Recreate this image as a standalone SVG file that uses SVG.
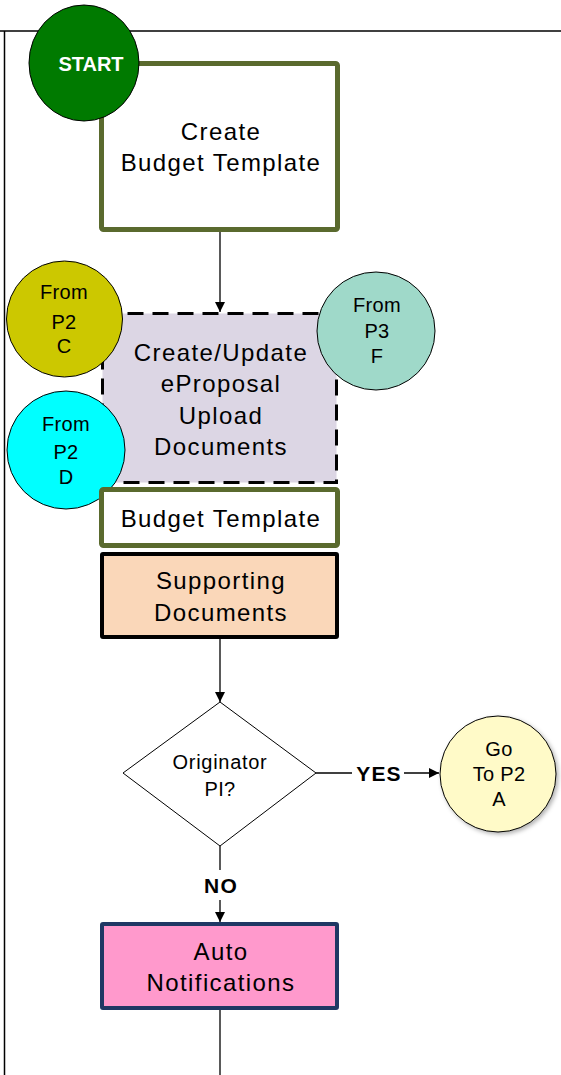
<svg xmlns="http://www.w3.org/2000/svg" width="561" height="1075" viewBox="0 0 561 1075">
<style>
text{font-family:"Liberation Sans",Arial,sans-serif;fill:#000;text-anchor:middle;dominant-baseline:central}
.big{font-size:24px;letter-spacing:1.4px}
.sm{font-size:20px;letter-spacing:0.3px}
.lbl{font-size:21px;font-weight:bold;letter-spacing:1.2px}
.olive{fill:#fff;stroke:#5A6A2E;stroke-width:5}
.conn{stroke:#000;stroke-width:1.3;fill:none}
.circ{stroke:#000;stroke-width:1}
</style>
<defs>
<marker id="arr" viewBox="0 0 10 10" refX="10" refY="5" markerWidth="10" markerHeight="10" markerUnits="userSpaceOnUse" orient="auto">
<path d="M0,0 L10,5 L0,10 z" fill="#000"/>
</marker>
<filter id="sh" x="-20%" y="-20%" width="150%" height="150%">
<feDropShadow dx="2" dy="2" stdDeviation="2" flood-color="#000" flood-opacity="0.3"/>
</filter>
</defs>
<rect x="0" y="0" width="561" height="1075" fill="#fff"/>
<g id="lanes">
<line x1="0" y1="31" x2="561" y2="31" stroke="#000" stroke-width="1.5"/>
<line x1="4.5" y1="31" x2="4.5" y2="1075" stroke="#000" stroke-width="1.5"/>
</g>
<g id="connectors">
<line class="conn" x1="220" y1="230" x2="220" y2="312" marker-end="url(#arr)"/>
<line class="conn" x1="220" y1="638" x2="220" y2="702" marker-end="url(#arr)"/>
<line class="conn" x1="316" y1="773" x2="352" y2="773"/>
<line class="conn" x1="404" y1="773" x2="439" y2="773" marker-end="url(#arr)"/>
<line class="conn" x1="220" y1="846" x2="220" y2="870"/>
<line class="conn" x1="220" y1="900" x2="220" y2="922" marker-end="url(#arr)"/>
<line class="conn" x1="220" y1="1009" x2="220" y2="1075"/>
<text class="lbl" x="379" y="773">YES</text>
<text class="lbl" x="221" y="885">NO</text>
</g>
<g id="create-budget">
<rect class="olive" x="101.5" y="63.5" width="236" height="166" rx="2"/>
<text class="big" x="221" y="131">Create</text>
<text class="big" x="221" y="162">Budget Template</text>
</g>
<g id="eproposal">
<rect x="102.5" y="313.5" width="234" height="169" fill="#DCD6E4" stroke="#000" stroke-width="3" stroke-dasharray="16,9"/>
<text class="big" x="221" y="352">Create/Update</text>
<text class="big" x="221" y="383">eProposal</text>
<text class="big" x="221" y="415">Upload</text>
<text class="big" x="221" y="446">Documents</text>
</g>
<g id="start">
<ellipse cx="84" cy="63" rx="55" ry="58" fill="#007A00" stroke="#000" stroke-width="1"/>
<text x="91" y="64" style="font-size:20px;font-weight:bold;fill:#fff">START</text>
</g>
<g id="from-p2-c">
<circle class="circ" cx="64.5" cy="319" r="58" fill="#CCC800"/>
<text class="sm" x="64" y="292">From</text>
<text class="sm" x="64" y="322">P2</text>
<text class="sm" x="64" y="346">C</text>
</g>
<g id="from-p2-d">
<circle class="circ" cx="66" cy="450" r="59" fill="#00FFFF"/>
<text class="sm" x="66" y="424">From</text>
<text class="sm" x="66" y="452">P2</text>
<text class="sm" x="66" y="477">D</text>
</g>
<g id="from-p3-f">
<circle class="circ" cx="376" cy="331" r="59" fill="#9FD9C9"/>
<text class="sm" x="377" y="305">From</text>
<text class="sm" x="377" y="331">P3</text>
<text class="sm" x="377" y="356">F</text>
</g>
<g id="budget-template">
<rect class="olive" x="101.5" y="489.5" width="236" height="56" rx="2"/>
<text class="big" x="221" y="518">Budget Template</text>
</g>
<g id="supporting-docs">
<rect x="102" y="554" width="235" height="83" fill="#FAD7B9" stroke="#000" stroke-width="4" rx="1"/>
<text class="big" x="221" y="580">Supporting</text>
<text class="big" x="221" y="612">Documents</text>
</g>
<g id="decision">
<polygon points="220,702 316,773 220,846 123,773" fill="#fff" stroke="#000" stroke-width="1"/>
<text class="sm" x="220" y="762" style="letter-spacing:0.7px">Originator</text>
<text class="sm" x="220" y="789">PI?</text>
</g>
<g id="goto-p2-a">
<circle class="circ" cx="498" cy="774" r="58" fill="#FFFAC8" filter="url(#sh)"/>
<text class="sm" x="499" y="749">Go</text>
<text class="sm" x="499" y="774">To P2</text>
<text class="sm" x="499" y="799">A</text>
</g>
<g id="auto-notifications">
<rect x="102" y="924" width="235" height="84" fill="#FF99CC" stroke="#1F3864" stroke-width="4" rx="1"/>
<text class="big" x="221" y="951">Auto</text>
<text class="big" x="221" y="982">Notifications</text>
</g>
</svg>
